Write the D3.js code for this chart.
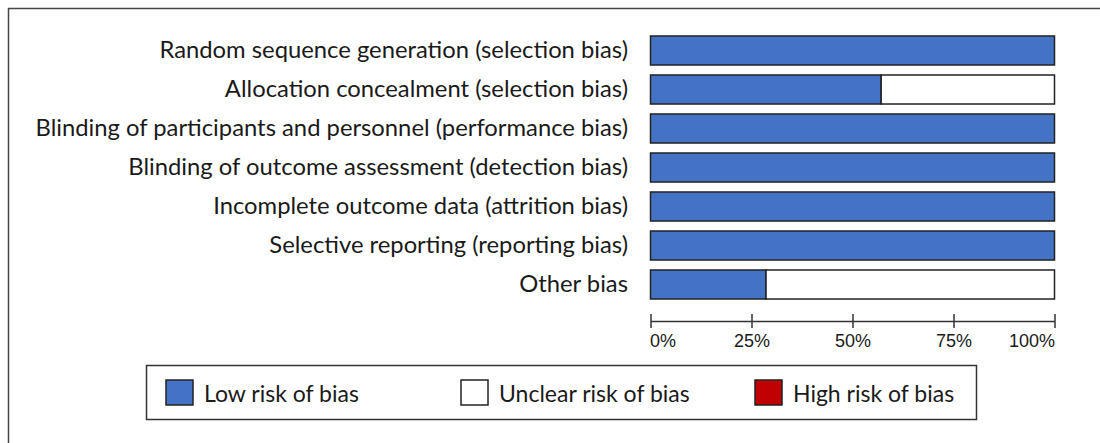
<!DOCTYPE html>
<html>
<head>
<meta charset="utf-8">
<script src="https://cdn.jsdelivr.net/npm/d3@7"></script>
<style>
  body { margin: 0; background: #fff; }
  svg { display: block; }
</style>
</head>
<body>
<svg id="chart" width="1100" height="443"></svg>
<script>
// risk of bias summary, percent of studies per domain
var categories = [
    "Random sequence generation (selection bias)",
    "Allocation concealment (selection bias)",
    "Blinding of participants and personnel (performance bias)",
    "Blinding of outcome assessment (detection bias)",
    "Incomplete outcome data (attrition bias)",
    "Selective reporting (reporting bias)",
    "Other bias"
];
var lowRisk = [100, 57.1, 100, 100, 100, 100, 28.6];
var unclearRisk = [0, 42.9, 0, 0, 0, 0, 71.4];
var highRisk = [0, 0, 0, 0, 0, 0, 0];
var tickValues = [0, 25, 50, 75, 100];
var legendLabels = ["Low risk of bias", "Unclear risk of bias", "High risk of bias"];
var legendColors = ["#4472C4", "#FFFFFF", "#C00000"];

var labelFont = "Lato, 'Open Sans', sans-serif";
var tickFont = "'Liberation Sans', Arial, sans-serif";

var svg = d3.select("#chart");

// outer frame, open on the right and bottom
svg.append("path")
    .attr("d", "M8.5,443 L8.5,8.5 L1100,8.5")
    .attr("fill", "none")
    .attr("stroke", "#444")
    .attr("stroke-width", 1.5);

var x = d3.scaleLinear().domain([0, 100]).range([650.5, 1054.5]);
var y = d3.scaleBand()
    .domain(categories)
    .range([31, 304])
    .paddingInner(0.256)
    .paddingOuter(0.128);

var rows = categories.map(function (c, i) {
    return { name: c, low: lowRisk[i], unclear: unclearRisk[i], high: highRisk[i] };
});
var stack = d3.stack().keys(["low", "unclear", "high"])(rows);
var color = d3.scaleOrdinal().domain(["low", "unclear", "high"]).range(legendColors);

var bars = svg.append("g");
stack.forEach(function (layer) {
    bars.selectAll(null)
        .data(layer.filter(function (d) { return d[1] - d[0] > 0; }))
        .enter()
        .append("rect")
        .attr("x", function (d) { return x(d[0]); })
        .attr("y", function (d) { return y(d.data.name); })
        .attr("width", function (d) { return x(d[1]) - x(d[0]); })
        .attr("height", y.bandwidth())
        .attr("fill", color(layer.key))
        .attr("stroke", "#222")
        .attr("stroke-width", 1.5);
});

// category labels
svg.append("g").selectAll("text")
    .data(categories)
    .enter()
    .append("text")
    .attr("x", 628)
    .attr("y", function (d) { return y(d) + y.bandwidth() / 2; })
    .attr("dy", "0.3em")
    .attr("text-anchor", "end")
    .attr("font-family", labelFont)
    .attr("font-size", "23.8px")
    .attr("fill", "#1a1a1a")
    .text(function (d) { return d; });

// axis with ticks crossing the line
var axis = svg.append("g")
    .attr("transform", "translate(0,321)")
    .call(d3.axisBottom(x).tickValues(tickValues).tickFormat(function (d) { return d + "%"; }).tickSizeOuter(0));
axis.select(".domain").attr("stroke", "#333").attr("stroke-width", 1.5);
axis.selectAll(".tick line").attr("y1", -7).attr("y2", 7).attr("stroke", "#333").attr("stroke-width", 1.5);
axis.selectAll(".tick text")
    .attr("y", 26)
    .attr("dy", 0)
    .attr("font-family", tickFont)
    .attr("font-size", "18px")
    .attr("fill", "#1a1a1a")
    .attr("text-anchor", function (d, i) { return i === 0 ? "start" : (i === tickValues.length - 1 ? "end" : "middle"); })
    .attr("dx", function (d, i) { return i === 0 ? -1 : 0; });

// legend
var legend = svg.append("g");
legend.append("rect")
    .attr("x", 146.5).attr("y", 365.5)
    .attr("width", 830).attr("height", 54)
    .attr("fill", "#fff")
    .attr("stroke", "#333")
    .attr("stroke-width", 1.5);

var legendX = [166, 461, 755];
var items = legend.selectAll("g.item")
    .data(legendLabels)
    .enter()
    .append("g")
    .attr("transform", function (d, i) { return "translate(" + legendX[i] + ",380)"; });
items.append("rect")
    .attr("width", 27).attr("height", 25)
    .attr("fill", function (d, i) { return legendColors[i]; })
    .attr("stroke", "#222")
    .attr("stroke-width", 1.5);
items.append("text")
    .attr("x", 38)
    .attr("y", 12.5)
    .attr("dy", "0.4em")
    .attr("font-family", labelFont)
    .attr("font-size", "23px")
    .attr("fill", "#1a1a1a")
    .text(function (d) { return d; });
</script>
</body>
</html>
